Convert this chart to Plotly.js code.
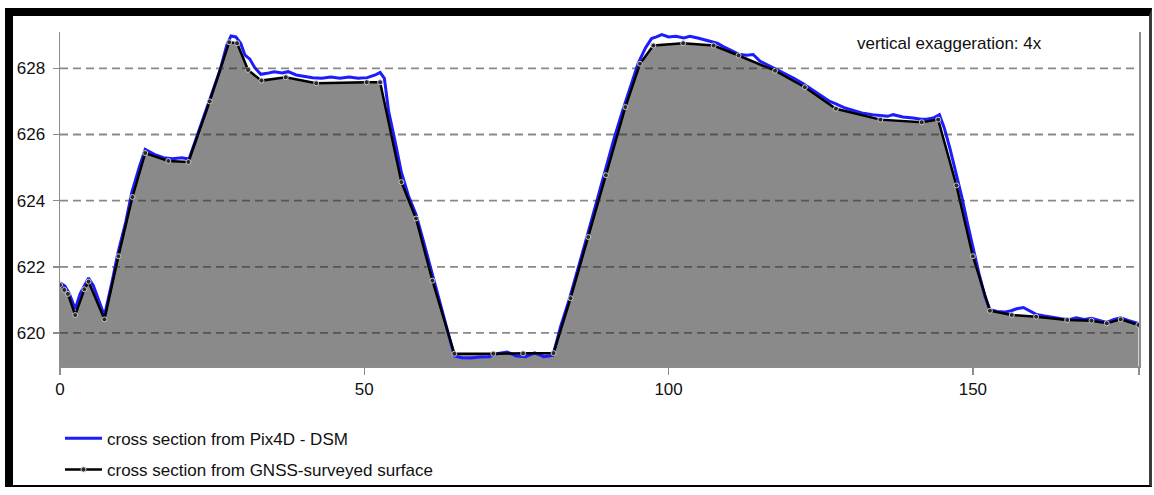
<!DOCTYPE html>
<html>
<head>
<meta charset="utf-8">
<script src="https://cdn.plot.ly/plotly-3.0.1.min.js"></script>
<style>
  html, body { margin: 0; padding: 0; background: #fff; }
  #wrap { position: relative; width: 1154px; height: 495px; overflow: hidden; }
  #chart { position: absolute; left: 0; top: 0; width: 1154px; height: 495px; }
  #frame { position: absolute; left: 5px; top: 8px; width: 1147px; height: 479px; box-sizing: border-box;
           border-left: 8px solid #000; border-top: 8px solid #000; border-right: 3px solid #3a3a3a; border-bottom: 2px solid #000;
           pointer-events: none; }
</style>
</head>
<body>
<div id="wrap">
  <div id="chart"></div>
  <div id="frame"></div>
</div>
<script>
// GNSS-surveyed surface (black line with points)
const gnssX = [0, 0.7, 1.3, 2.5, 4.0, 4.7, 7.3, 9.6, 11.9, 14.0, 17.8, 21.1, 24.6, 27.8, 29.1, 30.9, 33.1, 37.1, 42.1, 50.4, 52.6, 56.1, 58.5, 61.2, 64.8, 71.2, 76.1, 81.1, 83.9, 86.8, 89.7, 92.9, 95.3, 97.5, 102.4, 107.4, 111.5, 117.5, 122.4, 127.5, 134.8, 141.6, 144.3, 147.3, 150.0, 152.8, 156.4, 160.4, 165.5, 169.5, 172.0, 174.3, 177.2];
const gnssY = [621.45, 621.3, 621.18, 620.54, 621.32, 621.55, 620.41, 622.32, 624.11, 625.44, 625.2, 625.17, 627.0, 628.79, 628.76, 627.95, 627.63, 627.73, 627.55, 627.58, 627.58, 624.56, 623.46, 621.58, 619.37, 619.37, 619.38, 619.39, 621.05, 622.9, 624.77, 626.83, 628.14, 628.69, 628.76, 628.69, 628.39, 627.93, 627.43, 626.78, 626.45, 626.37, 626.45, 624.46, 622.32, 620.67, 620.54, 620.49, 620.39, 620.37, 620.29, 620.41, 620.24];

// Pix4D DSM cross section (blue line)
const pixX = [
  0, 0.8, 1.5, 2.5, 3.3, 4.0, 4.7, 5.5, 6.4, 7.3,
  8.5, 9.5, 10.8, 11.8, 13.0, 14.0, 15.5, 17.0, 18.5, 20.0,
  21.2, 22.5, 23.8, 25.0, 26.3, 27.4, 28.1, 28.9, 29.7, 30.4,
  31.2, 32.0, 33.0, 34.0, 35.2, 36.5, 37.5, 38.8, 40.0, 41.5,
  43.0, 44.5, 46.0, 47.5, 49.0, 50.5, 51.8, 52.6, 53.3, 54.0,
  55.0, 56.1, 57.3, 58.5, 59.8, 61.2, 62.5, 63.8, 64.8, 66.0,
  67.5, 69.0, 70.5, 72.0, 73.5, 75.0, 76.5, 78.0, 79.5, 81.0,
  82.3, 83.7, 85.0, 86.5, 88.0, 89.5, 91.0, 92.5, 93.8, 95.0,
  96.2, 97.2, 98.0, 98.9, 100.0, 101.2, 102.5, 103.5, 104.8, 106.0,
  107.0, 108.0, 109.0, 110.2, 111.5, 112.8, 113.9, 115.0, 116.3, 117.8,
  119.2, 120.6, 122.2, 123.7, 125.2, 126.5, 127.6, 129.0, 130.5, 132.0,
  133.5, 134.8, 136.0, 136.9, 138.5, 140.2, 141.5, 142.4, 143.5, 144.5,
  145.3, 146.2, 147.1, 148.2, 149.2, 150.1, 151.0, 152.0, 152.8, 154.0,
  155.2, 156.3, 157.2, 158.3, 159.4, 160.4, 161.8, 163.2, 164.5, 165.8,
  167.0, 168.3, 169.5, 170.8, 172.0, 173.2, 174.3, 175.5, 176.4, 177.2];
const pixY = [
  621.52, 621.42, 621.2, 620.72, 621.18, 621.42, 621.66, 621.42, 621.0, 620.52,
  621.5, 622.4, 623.35, 624.25, 625.0, 625.55, 625.4, 625.3, 625.27, 625.3,
  625.26, 625.95, 626.65, 627.3, 627.95, 628.7, 628.98, 628.95, 628.75, 628.4,
  628.28, 628.02, 627.82, 627.85, 627.9, 627.86, 627.9, 627.8, 627.76, 627.72,
  627.7, 627.74, 627.7, 627.74, 627.7, 627.72, 627.8, 627.88, 627.7, 626.7,
  625.85, 624.85, 624.12, 623.58, 622.72, 621.75, 620.9, 620.02, 619.3, 619.25,
  619.24, 619.27, 619.28, 619.38, 619.42, 619.3, 619.28, 619.4, 619.28, 619.32,
  620.22, 621.02, 621.85, 622.85, 623.85, 624.85, 625.85, 626.75, 627.45, 628.15,
  628.62, 628.9, 628.95, 629.02, 628.95, 628.97, 628.92, 628.97, 628.92, 628.86,
  628.82, 628.76, 628.66, 628.54, 628.43, 628.4, 628.42, 628.22, 628.1, 627.98,
  627.83, 627.7, 627.53, 627.35, 627.15, 627.0, 626.92, 626.8, 626.72, 626.64,
  626.6, 626.57, 626.55, 626.6, 626.53, 626.5, 626.46, 626.46, 626.5, 626.6,
  626.2, 625.6, 624.95, 624.1, 623.25, 622.5, 621.8, 621.1, 620.7, 620.65,
  620.63, 620.67, 620.73, 620.77, 620.65, 620.56, 620.51, 620.46, 620.43, 620.4,
  620.46, 620.41, 620.44, 620.38, 620.32, 620.41, 620.46, 620.38, 620.34, 620.29];

const xTickVals = [0, 50, 100, 150, 177.3];
const xTickText = ['0', '50', '100', '150', ''];
const yTickVals = [620, 622, 624, 626, 628];
const seriesNames = ['cross section from Pix4D - DSM', 'cross section from GNSS-surveyed surface'];
const noteText = 'vertical exaggeration: 4x';

const FONT = '"Liberation Sans", Arial, sans-serif';
const FS = 17;

const traces = [
  { x: gnssX, y: gnssY, type: 'scatter', mode: 'none', fill: 'tozeroy', fillcolor: '#8a8a8a',
    showlegend: false, hoverinfo: 'skip' },
  { x: pixX, y: pixY, type: 'scatter', mode: 'lines', name: seriesNames[0], legendgroup: 'a',
    line: { color: '#1c1cff', width: 3 } },
  { x: gnssX, y: gnssY, type: 'scatter', mode: 'lines+markers', name: seriesNames[1], legendgroup: 'b',
    line: { color: '#000', width: 2.5 },
    marker: { symbol: 'circle', size: 5, color: '#2a2a2a', line: { color: '#c8c8c8', width: 1 } } }
];

const shapes = yTickVals.map(v => ({
  type: 'line', xref: 'paper', yref: 'y', x0: 0, x1: 1, y0: v, y1: v, layer: 'above',
  line: { color: 'rgba(40,40,40,0.55)', width: 1.8, dash: '8px,5px' }
}));

const layout = {
  width: 1154, height: 495,
  margin: { l: 60, r: 15, t: 32, b: 129, pad: 0, autoexpand: false },
  paper_bgcolor: '#fff', plot_bgcolor: '#fff',
  font: { family: FONT, size: FS, color: '#111' },
  showlegend: true,
  legend: { x: 0, y: 0.150, xref: 'paper', yref: 'container', xanchor: 'left', yanchor: 'top', bgcolor: 'rgba(0,0,0,0)', itemwidth: 37,
            traceorder: 'grouped', tracegroupgap: 6, font: { family: FONT, size: FS, color: '#111' } },
  xaxis: { range: [0, 177.3], showgrid: false, zeroline: false, showline: true, linecolor: '#8c8c8c', linewidth: 1.5,
           ticks: 'outside', ticklen: 7, tickcolor: '#8c8c8c', tickwidth: 1.5, ticklabelstandoff: 0, automargin: false,
           tickmode: 'array', tickvals: xTickVals, ticktext: xTickText, tickfont: { family: FONT, size: FS, color: '#111' } },
  yaxis: { range: [619, 629.1], showgrid: false, zeroline: false, showline: true, mirror: true, linecolor: '#8c8c8c', linewidth: 1.5,
           ticks: 'outside', ticklen: 6, tickcolor: '#8c8c8c', tickwidth: 1.5, ticklabelstandoff: 4, automargin: false,
           tickmode: 'array', tickvals: yTickVals, tickfont: { family: FONT, size: FS, color: '#111' } },
  shapes: shapes,
  annotations: [{ text: noteText, xref: 'paper', yref: 'paper', x: 0.8248, y: 0.967, xanchor: 'center', yanchor: 'middle',
                  showarrow: false, font: { family: FONT, size: FS, color: '#111' } }]
};

Plotly.newPlot('chart', traces, layout, { displayModeBar: false, staticPlot: true });
</script>
</body>
</html>
